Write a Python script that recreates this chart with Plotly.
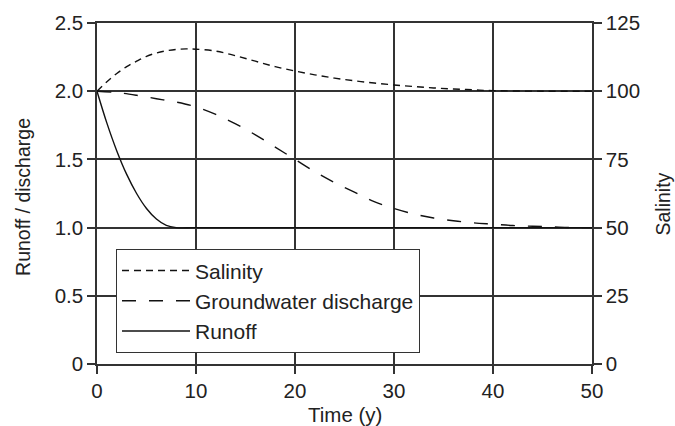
import plotly.graph_objects as go

# Data
runoff_t = [0, 1, 2, 3, 4, 5, 6, 7, 8, 10, 20, 30, 40, 50]
runoff_v = [2.0, 1.766, 1.5625, 1.39, 1.25, 1.14, 1.0625, 1.0156, 1.0, 1.0, 1.0, 1.0, 1.0, 1.0]

gw_t = [0, 2, 4, 6, 8, 10, 12, 14, 16, 18, 20, 22, 24, 26, 28, 30, 32, 34, 36, 38, 40, 42, 44, 46, 48, 50]
gw_v = [2.0, 1.99, 1.97, 1.945, 1.92, 1.885, 1.83, 1.76, 1.68, 1.59, 1.50, 1.41, 1.33, 1.26, 1.19,
        1.14, 1.10, 1.07, 1.05, 1.035, 1.025, 1.015, 1.01, 1.005, 1.0, 1.0]

sal_t = [0, 1, 2, 3, 4, 5, 6, 7, 8, 9, 10, 12, 14, 16, 18, 20, 22, 24, 26, 28, 30, 32, 34, 36, 38, 40, 45, 50]
sal_v = [100, 103.5, 106.5, 109, 111, 112.8, 114, 114.8, 115.3, 115.5, 115.4, 114.7, 113, 111, 109,
         107.4, 106, 104.8, 103.8, 103, 102.3, 101.7, 101.2, 100.8, 100.5, 100.2, 100, 100]

x_ticks = [0, 10, 20, 30, 40, 50]
y_ticks = [0, 0.5, 1.0, 1.5, 2.0, 2.5]
y_ticktext = ["0", "0.5", "1.0", "1.5", "2.0", "2.5"]
y2_ticks = [0, 25, 50, 75, 100, 125]

x_title = "Time (y)"
y_title = "Runoff / discharge"
y2_title = "Salinity"

FONT = "Liberation Sans, Arial, sans-serif"
GRID = "#333333"
TXT = "#222222"

fig = go.Figure()
fig.add_trace(go.Scatter(x=sal_t, y=sal_v, name="Salinity", yaxis="y2", mode="lines",
                         line=dict(color="#111", width=1.4, dash="7px,5px", shape="spline")))
fig.add_trace(go.Scatter(x=gw_t, y=gw_v, name="Groundwater discharge", mode="lines",
                         line=dict(color="#111", width=1.4, dash="14px,13px", shape="spline")))
fig.add_trace(go.Scatter(x=runoff_t, y=runoff_v, name="Runoff", mode="lines",
                         line=dict(color="#111", width=1.4, shape="spline")))

axis_common = dict(gridcolor=GRID, gridwidth=1.5, linecolor=GRID, linewidth=1.5,
                   ticks="outside", ticklen=8, tickwidth=1.5, tickcolor=GRID, automargin=False,
                   tickfont=dict(family=FONT, size=20.5, color=TXT), zeroline=False)

fig.update_layout(
    width=675, height=426,
    margin=dict(l=97, r=83, t=23, b=62),
    plot_bgcolor="white", paper_bgcolor="white",
    font=dict(family=FONT, size=20, color=TXT),
    xaxis=dict(range=[0, 50], tickvals=x_ticks, showline=True, mirror=True, showgrid=True, **axis_common),
    yaxis=dict(range=[0, 2.5], tickvals=y_ticks, ticktext=y_ticktext, showline=True, mirror=True,
               showgrid=True, **axis_common),
    yaxis2=dict(range=[0, 125], tickvals=y2_ticks, overlaying="y", side="right", showline=True,
                showgrid=False, **axis_common),
    legend=dict(x=0.038, y=0.337, xanchor="left", yanchor="top", bgcolor="white",
                bordercolor="#333", borderwidth=1.2, font=dict(family=FONT, size=21, color=TXT),
                itemwidth=68, tracegroupgap=0),
    showlegend=True,
    annotations=[
        dict(text=x_title, xref="paper", yref="paper", x=0.5, y=-0.148, xanchor="center",
             yanchor="middle", showarrow=False, font=dict(size=20.5)),
        dict(text=y_title, xref="paper", yref="paper", x=-0.1495, y=0.49, xanchor="center",
             yanchor="middle", textangle=-90, showarrow=False, font=dict(size=19.5)),
        dict(text=y2_title, xref="paper", yref="paper", x=1.143, y=0.47, xanchor="center",
             yanchor="middle", textangle=-90, showarrow=False, font=dict(size=19.5)),
    ],
)

fig.write_html("out.html")
